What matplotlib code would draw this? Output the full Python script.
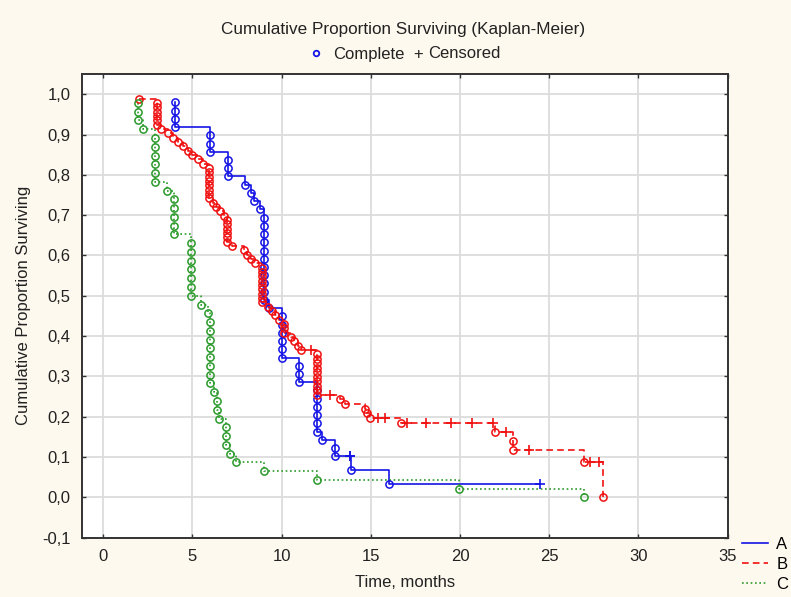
import matplotlib
matplotlib.use('Agg')
import matplotlib.pyplot as plt
from matplotlib.lines import Line2D
from matplotlib.ticker import FuncFormatter

plt.rcParams['font.family'] = ['Liberation Sans', 'DejaVu Sans']

# times (months); events = complete, censored = '+'
a_event_t = [4.0, 4.0, 4.0, 4.0, 6.0, 6.0, 6.0, 7.0, 7.0, 7.0,
             7.97, 8.29, 8.47, 8.79,
             9.0, 9.0, 9.0, 9.0, 9.0, 9.0, 9.0, 9.0, 9.0, 9.0, 9.0,
             9.3, 10.05, 10.05, 10.05, 10.05, 10.05, 10.05,
             11.0, 11.0, 11.0, 12.0, 12.0, 12.0, 12.0, 12.0, 12.0,
             12.27, 13.0, 13.0, 13.9, 16.0]
a_censor_t = [13.85, 13.85, 24.5]

b_event_t = [2.0, 3.03, 3.03, 3.03, 3.03, 3.03, 3.03,
             3.25, 3.65, 3.9, 4.2, 4.5, 4.75, 5.0, 5.3, 5.6,
             5.93, 5.93, 5.93, 5.93, 5.93, 5.93, 5.93, 5.93,
             6.15, 6.35, 6.55, 6.75,
             6.95, 6.95, 6.95, 6.95, 6.95, 6.95,
             7.2, 7.9, 8.05, 8.3, 8.5,
             8.9, 8.9, 8.9, 8.9, 8.9, 8.9, 8.9, 8.9, 8.9,
             9.25, 9.45, 9.65, 9.85, 10.15, 10.15, 10.15,
             10.5, 10.7, 10.9, 11.1,
             11.97, 11.97, 11.97, 11.97, 11.97, 11.97, 11.97, 11.97, 11.97, 11.97,
             13.25, 13.55, 14.65, 14.8, 14.98, 16.7, 21.95,
             22.95, 22.95, 26.95, 28.0]
b_censor_t = [11.65, 12.7, 15.4, 15.8, 17.05, 18.08, 19.48, 20.69, 21.87,
              22.6, 23.87, 27.3, 27.8]

c_event_t = [1.97, 1.97, 1.97, 2.25, 2.88, 2.88, 2.88, 2.88, 2.88, 2.88,
             3.6, 3.98, 3.98, 3.98, 3.98, 3.98,
             4.95, 4.95, 4.95, 4.95, 4.95, 4.95, 4.95, 5.5, 5.85,
             5.98, 5.98, 5.98, 5.98, 5.98, 5.98, 5.98, 5.98,
             6.2, 6.4, 6.4, 6.5, 6.9, 6.9, 6.9, 7.1, 7.45,
             9.0, 12.0, 19.96, 26.95]
c_censor_t = []

groups = ['A', 'B', 'C']
colors = ['#1414e6', '#f01010', '#2a9a2a']
styles = ['-', (0, (4, 2.5)), (0, (1, 1.6))]
x_ticks = [0, 5, 10, 15, 20, 25, 30, 35]
y_ticks = [-0.1, 0.0, 0.1, 0.2, 0.3, 0.4, 0.5, 0.6, 0.7, 0.8, 0.9, 1.0]


def km_points(events, censored):
    # one point per observation, the way Statistica plots it
    obs = [(t, 0) for t in events] + [(t, 1) for t in censored]
    obs.sort()
    r = len(obs)
    s = 1.0
    pts = []
    for t, c in obs:
        if c == 0:
            s = s * (r - 1) / r
        pts.append((t, s, c))
        r -= 1
    return pts


fig = plt.figure(figsize=(7.91, 5.97), dpi=100, facecolor='#fdf9ee')
ax = fig.add_axes([0.1033, 0.0993, 0.8167, 0.7767])

data = [(a_event_t, a_censor_t), (b_event_t, b_censor_t), (c_event_t, c_censor_t)]
handles = []
for name, col, ls, (ev, ce) in zip(groups, colors, styles, data):
    pts = km_points(ev, ce)
    xs = [p[0] for p in pts]
    ys = [p[1] for p in pts]
    ax.plot(xs, ys, drawstyle='steps-post', color=col, lw=1.2, ls=ls, zorder=3)
    ex = [p[0] for p in pts if p[2] == 0]
    ey = [p[1] for p in pts if p[2] == 0]
    ax.plot(ex, ey, 'o', ms=5.2, mfc='none', mec=col, mew=1.1, zorder=4)
    cx = [p[0] for p in pts if p[2] == 1]
    cy = [p[1] for p in pts if p[2] == 1]
    ax.plot(cx, cy, '+', ms=7, color=col, mew=1.2, zorder=4)
    handles.append(Line2D([], [], color=col, ls=ls, lw=1.2, label=name))

ax.set_xlim(-1.2, 35)
ax.set_ylim(-0.1, 1.05)
ax.set_xticks(x_ticks)
ax.set_yticks(y_ticks)
ax.yaxis.set_major_formatter(FuncFormatter(lambda v, p: f'{v:.1f}'.replace('.', ',')))
ax.grid(True, color='#dcdcdc', lw=1.3, zorder=0)
ax.set_axisbelow(True)
ax.tick_params(direction='in', top=True, right=True, length=3, width=1,
               labelsize=12, colors='#333333', labelcolor='#222222', pad=8)
for sp in ax.spines.values():
    sp.set_color('#333333')
    sp.set_linewidth(1.4)

ax.set_xlabel('Time, months', fontsize=12, labelpad=8, color='#222222')
ax.set_ylabel('Cumulative Proportion Surviving', fontsize=12, labelpad=8, color='#222222')

# title and the Complete / Censored key
fig.text(0.509, 0.95, 'Cumulative Proportion Surviving (Kaplan-Meier)',
         ha='center', va='center', fontsize=12.3, color='#222222')
fig.add_artist(Line2D([316 / 791], [1 - 53 / 597], transform=fig.transFigure,
                      marker='o', ls='none', ms=4, mfc='none', mec='#1414e6', mew=1.3))
base = 1 - 58.5 / 597
fig.text(333 / 791, base, 'Complete', ha='left', va='baseline', fontsize=12, color='#222222')
fig.text(418 / 791, base, '+', ha='center', va='baseline', fontsize=12, color='#222222')
fig.text(428 / 791, base, 'Censored', ha='left', va='baseline', fontsize=12, color='#222222')

ax.legend(handles=handles, loc='upper left', bbox_to_anchor=(1.012, 0.017),
          frameon=False, fontsize=12, handlelength=1.55, handletextpad=0.5,
          labelspacing=0.3, borderaxespad=0)

fig.savefig('out.png', dpi=100, facecolor=fig.get_facecolor())
